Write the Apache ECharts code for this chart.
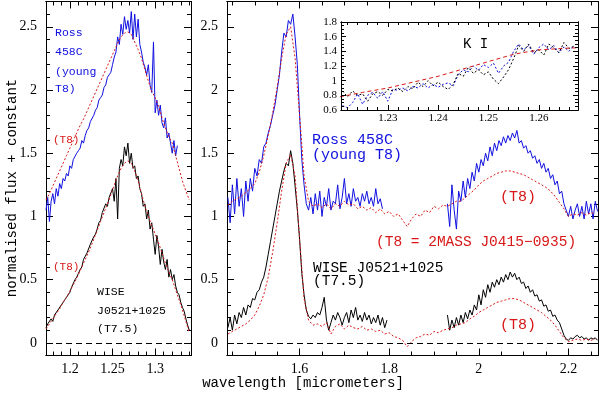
<!DOCTYPE html>
<html>
<head>
<meta charset="utf-8">
<script src="https://cdn.jsdelivr.net/npm/echarts@6/dist/echarts.min.js"></script>
<style>
html,body{margin:0;padding:0;background:#fff}
#chart{width:600px;height:396px}
</style>
</head>
<body>
<div id="chart"></div>
<script>
// ---- J band (left panel) ----
var jStart = 1.172, jStep = 0.002;
var jRoss = [1.05,1.15,0.96,1.12,1.18,1.10,1.22,1.16,1.26,1.22,
  1.30,1.28,1.34,1.32,1.40,1.38,1.45,1.44,1.50,1.52,
  1.54,1.60,1.58,1.64,1.68,1.70,1.75,1.74,1.80,1.84,
  1.86,1.92,1.94,1.96,2.02,2.04,2.10,2.12,2.14,2.20,
  2.26,2.30,2.42,2.36,2.52,2.44,2.58,2.48,2.55,2.45,
  2.62,2.40,2.60,2.42,2.56,2.36,2.30,2.22,2.18,2.12,
  2.20,2.04,1.98,2.38,1.82,1.92,1.80,1.88,1.74,1.70,
  1.78,1.62,1.66,1.58,1.50,1.60,1.48,1.56];
var jWise = [0.12,0.15,0.14,0.19,0.17,0.22,0.21,0.26,0.25,0.30,
  0.29,0.34,0.33,0.38,0.40,0.44,0.45,0.50,0.52,0.55,
  0.58,0.60,0.66,0.65,0.71,0.72,0.78,0.77,0.84,0.86,
  0.90,0.95,0.97,1.03,1.02,1.10,1.08,1.15,1.14,1.22,
  1.12,1.30,0.98,1.38,1.45,1.40,1.55,1.48,1.58,1.42,
  1.50,1.38,1.40,1.30,1.32,1.22,1.18,1.08,1.10,0.98,
  1.05,0.90,0.95,0.82,0.70,0.85,0.76,0.62,0.74,0.64,
  0.58,0.66,0.52,0.58,0.50,0.54,0.45,0.40,0.38,0.32,
  0.28,0.25,0.19,0.14,0.10];
var jModelStep = 0.004;
var jRossModel = [1.13,1.18,1.24,1.30,1.36,1.42,1.48,1.54,1.60,1.66,
  1.72,1.77,1.83,1.89,1.95,2.01,2.07,2.13,2.19,2.25,
  2.31,2.37,2.42,2.45,2.46,2.44,2.38,2.32,2.25,2.16,
  2.07,1.99,1.94,1.87,1.78,1.70,1.63,1.58,1.48,1.38,
  1.28,1.20,1.13];
var jWiseModel = [0.11,0.15,0.19,0.23,0.27,0.32,0.36,0.41,0.46,0.51,
  0.57,0.63,0.69,0.75,0.82,0.89,0.96,1.03,1.10,1.17,
  1.25,1.32,1.38,1.42,1.44,1.42,1.36,1.28,1.18,1.08,
  1.00,0.93,0.86,0.79,0.71,0.63,0.56,0.50,0.42,0.34,
  0.26,0.17,0.08];

// ---- H and K bands (right panel) ----
var hStep = 0.005, hStartA = 1.44, hStartB = 1.93;
var hRossA = [1.15,0.95,1.25,1.02,1.30,1.08,1.22,1.00,1.28,1.12,
  1.30,1.20,1.38,1.32,1.45,1.42,1.55,1.58,1.66,1.72,
  1.80,1.88,2.00,2.12,2.30,2.45,2.42,2.55,2.52,2.60,
  2.42,2.20,1.80,1.45,1.25,1.10,1.05,1.15,1.02,1.18,
  1.05,1.20,1.00,1.15,1.08,1.22,1.05,1.12,1.10,1.25,
  1.06,1.15,1.30,1.10,1.18,1.08,1.22,1.12,1.15,1.08,
  1.18,1.12,1.20,1.10,1.15,1.08,1.22,1.10,1.14,1.06];
var hRossB = [1.10,0.92,1.25,1.05,0.90,1.20,1.12,1.28,1.15,1.30,
  1.22,1.35,1.28,1.42,1.35,1.45,1.40,1.50,1.44,1.55,
  1.48,1.58,1.52,1.60,1.56,1.63,1.58,1.64,1.60,1.66,
  1.62,1.68,1.58,1.60,1.54,1.56,1.50,1.52,1.46,1.48,
  1.42,1.45,1.38,1.42,1.35,1.38,1.30,1.33,1.25,1.28,
  1.18,1.20,1.10,1.05,1.00,1.08,0.98,1.05,1.10,1.00,
  1.08,0.98,1.12,1.02,1.10,0.98,1.12,1.04];
var hWiseA = [0.12,0.20,0.10,0.22,0.15,0.24,0.20,0.28,0.22,0.30,
  0.28,0.35,0.34,0.40,0.42,0.48,0.52,0.60,0.70,0.80,
  0.90,1.00,1.10,1.20,1.28,1.36,1.42,1.40,1.52,1.42,
  1.24,1.05,0.82,0.55,0.38,0.26,0.21,0.19,0.22,0.20,
  0.24,0.22,0.28,0.36,0.18,0.10,0.16,0.22,0.18,0.24,
  0.20,0.14,0.20,0.24,0.16,0.26,0.20,0.28,0.18,0.22,
  0.17,0.24,0.18,0.22,0.15,0.20,0.16,0.22,0.14,0.20,
  0.12,0.18];
var hWiseB = [0.22,0.10,0.18,0.12,0.20,0.14,0.22,0.16,0.24,0.19,
  0.26,0.22,0.30,0.26,0.38,0.30,0.42,0.36,0.46,0.40,
  0.48,0.44,0.50,0.46,0.52,0.48,0.54,0.50,0.56,0.52,
  0.55,0.50,0.52,0.47,0.48,0.43,0.45,0.40,0.42,0.37,
  0.38,0.33,0.34,0.29,0.30,0.25,0.26,0.21,0.22,0.18,
  0.16,0.11,0.06,0.03,0.02,0.04,0.03,0.05,0.06,0.04,
  0.05,0.03,0.04,0.02,0.04,0.03,0.04,0.02];
var hModelStart = 1.44, hModelStep = 0.01;
var hRossModel = [1.09,1.12,1.14,1.16,1.19,1.22,1.26,1.35,1.48,1.64,
  1.82,2.02,2.25,2.44,2.50,2.25,1.80,1.32,1.12,1.08,
  1.10,1.07,1.10,1.06,1.10,1.08,1.12,1.09,1.10,1.06,
  1.08,1.05,1.07,1.03,1.06,1.02,1.04,1.00,1.02,0.97,
  0.92,0.98,1.02,1.00,1.05,1.03,1.08,1.06,1.09,1.08,
  1.10,1.12,1.12,1.15,1.18,1.21,1.25,1.28,1.30,1.32,
  1.34,1.35,1.36,1.36,1.35,1.34,1.33,1.31,1.29,1.27,
  1.25,1.23,1.20,1.16,1.11,1.06,1.00,1.02,1.01,1.03,
  1.01,1.03,1.02];
var hWiseModel = [0.07,0.09,0.11,0.13,0.15,0.18,0.22,0.29,0.38,0.52,
  0.72,0.95,1.20,1.42,1.49,1.32,0.82,0.35,0.18,0.14,
  0.15,0.13,0.16,0.07,0.13,0.15,0.11,0.14,0.12,0.11,
  0.13,0.10,0.11,0.09,0.10,0.07,0.08,0.05,0.04,0.02,
  -0.03,0.01,0.04,0.05,0.07,0.06,0.09,0.08,0.10,0.11,
  0.12,0.14,0.15,0.16,0.19,0.21,0.24,0.26,0.28,0.30,
  0.32,0.33,0.34,0.35,0.35,0.34,0.32,0.30,0.28,0.26,
  0.24,0.21,0.18,0.14,0.09,0.04,0.01,0.02,0.03,0.02,
  0.03,0.02,0.03];

// ---- inset: K I region ----
var inStart = 1.221, inStep = 0.001;
var inRoss = [0.66,0.63,0.70,0.82,0.68,0.80,0.84,0.76,0.85,0.72,
  0.88,0.87,0.90,0.86,0.92,0.90,0.96,0.90,0.95,0.91,
  0.95,0.97,0.93,1.08,1.15,1.12,1.20,1.14,1.22,1.18,
  1.24,1.10,1.20,1.25,1.40,1.50,1.42,1.48,1.36,1.45,
  1.50,1.42,1.48,1.38,1.46,1.40,1.48];
var inWise = [0.86,0.78,0.86,0.80,0.82,0.72,0.82,0.85,0.80,0.88,
  0.86,0.90,0.85,0.92,0.89,0.98,0.92,1.00,0.93,0.98,
  0.92,0.88,0.95,1.10,1.06,1.18,1.10,1.15,1.08,1.12,
  1.02,0.96,1.05,1.15,1.30,1.48,1.40,1.50,1.38,1.42,
  1.35,1.50,1.45,1.38,1.52,1.44,1.47];
var inModelWave = [1.2205,1.225,1.23,1.235,1.24,1.245,1.25,1.255,1.26,1.265,1.268];
var inModel = [0.78,0.84,0.90,0.98,1.06,1.16,1.26,1.36,1.42,1.44,1.45];
var kiLine = 1.2419;

// ---- ticks ----
var jMajor = [1.2, 1.25, 1.3];
var hMajor = [1.6, 1.8, 2, 2.2];
var fluxMajor = [0, 0.5, 1, 1.5, 2, 2.5];
var inXMajor = [1.23, 1.24, 1.25, 1.26];
var inYMajor = [0.6, 0.8, 1, 1.2, 1.4, 1.6, 1.8];

function steps(a, b, d) {
  var out = [];
  for (var v = a; v <= b + d / 2; v += d) out.push(+v.toFixed(4));
  return out;
}
function pairs(w0, dw, flux) {
  return flux.map(function (v, i) { return [+(w0 + dw * i).toFixed(4), v]; });
}

var SERIF = '"Liberation Serif","DejaVu Serif",serif';
var MONO = '"Liberation Mono","DejaVu Sans Mono",monospace';
var BLUE = '#1010e0', RED = '#d81818';

var xAxes = [], yAxes = [];
function frame(grid, xr, yr, xt, yt, o) {
  function ax(min, max, pos, ticks, len, label, margin) {
    return {
      gridIndex: grid, type: 'value', position: pos, min: min, max: max, z: o.z,
      silent: true,
      axisLine: {show: true, onZero: false, lineStyle: {color: '#000', width: 1}},
      splitLine: {show: false},
      axisTick: {show: true, inside: true, length: len, customValues: ticks,
        lineStyle: {color: '#000', width: 1}},
      axisLabel: label ? {show: true, customValues: ticks, color: '#000',
        fontFamily: SERIF, fontSize: o.fs, margin: margin} : {show: false}
    };
  }
  var xi = xAxes.length, yi = yAxes.length;
  xAxes.push(ax(xr[0], xr[1], 'bottom', xt[0], o.major, true, o.xm));
  xAxes.push(ax(xr[0], xr[1], 'bottom', xt[1], o.minor, false));
  xAxes.push(ax(xr[0], xr[1], 'top', xt[0], o.major, false));
  xAxes.push(ax(xr[0], xr[1], 'top', xt[1], o.minor, false));
  yAxes.push(ax(yr[0], yr[1], 'left', yt[0], o.major, true, o.ym));
  yAxes.push(ax(yr[0], yr[1], 'left', yt[1], o.minor, false));
  yAxes.push(ax(yr[0], yr[1], 'right', yt[0], o.major, false));
  yAxes.push(ax(yr[0], yr[1], 'right', yt[1], o.minor, false));
  return {x: xi, y: yi};
}

var fluxMinor = steps(-0.1, 2.7, 0.1);
var L = frame(0, [1.172, 1.342], [-0.1, 2.7], [jMajor, steps(1.18, 1.34, 0.01)],
  [fluxMajor, fluxMinor], {major: 7, minor: 4, fs: 14, xm: 7, ym: 9, z: 0});
var R = frame(1, [1.438, 2.266], [-0.1, 2.7], [hMajor, steps(1.45, 2.25, 0.05)],
  [fluxMajor, fluxMinor], {major: 7, minor: 4, fs: 14, xm: 7, ym: 9, z: 0});
var I = frame(2, [1.2207, 1.2678], [0.6, 1.8], [inXMajor, steps(1.222, 1.266, 0.002)],
  [inYMajor, steps(0.6, 1.8, 0.05)], {major: 5, minor: 3, fs: 11, xm: 3, ym: 4, z: 12});

function line(ax, data, color, type, z) {
  return {
    type: 'line', xAxisIndex: ax.x, yAxisIndex: ax.y, data: data,
    showSymbol: false, symbol: 'none', silent: true, z: z || 2, clip: true,
    lineStyle: {color: color, width: 1, type: type || 'solid'}
  };
}
var zeroLine = {
  symbol: 'none', silent: true, label: {show: false},
  lineStyle: {color: '#000', width: 1, type: [6, 4]},
  data: [{yAxis: 0}]
};

var series = [
  line(L, pairs(jStart, jStep, jRoss), BLUE),
  line(L, pairs(jStart, jStep, jWise), '#000'),
  line(L, pairs(jStart, jModelStep, jRossModel), RED, [2, 2], 3),
  line(L, pairs(jStart, jModelStep, jWiseModel), RED, [2, 2], 3),
  line(R, pairs(hStartA, hStep, hRossA), BLUE),
  line(R, pairs(hStartB, hStep, hRossB), BLUE),
  line(R, pairs(hStartA, hStep, hWiseA), '#000'),
  line(R, pairs(hStartB, hStep, hWiseB), '#000'),
  line(R, pairs(hModelStart, hModelStep, hRossModel), RED, [2, 2], 3),
  line(R, pairs(hModelStart, hModelStep, hWiseModel), RED, [2, 2], 3),
  line(I, pairs(inStart, inStep, inRoss), BLUE, [2, 2], 11),
  line(I, pairs(inStart, inStep, inWise), '#000', [2, 2], 11),
  line(I, inModelWave.map(function (w, i) { return [w, inModel[i]]; }), RED, [4, 3], 11)
];
series[1].markLine = zeroLine;
series[7].markLine = zeroLine;
series[11].markLine = {
  symbol: 'none', silent: true, label: {show: false},
  lineStyle: {color: '#000', width: 1, type: [7, 4]},
  data: [{xAxis: kiLine}]
};

function txt(x, y, s, color, size, extra) {
  var el = {
    type: 'text', x: x, y: y, silent: true, z: 20,
    style: {text: s, fill: color, font: size + 'px ' + MONO, verticalAlign: 'middle', align: 'left'}
  };
  if (extra) for (var k in extra) el.style[k] = extra[k];
  return el;
}

var graphics = [
  txt(55, 33, 'Ross', BLUE, 11.5),
  txt(55, 52, '458C', BLUE, 11.5),
  txt(55, 72, '(young', BLUE, 11.5),
  txt(55, 89, 'T8)', BLUE, 11.5),
  txt(53, 140, '(T8)', RED, 11),
  txt(53, 267, '(T8)', RED, 11),
  txt(97, 292, 'WISE', '#000', 11.5),
  txt(97, 311, 'J0521+1025', '#000', 11.5),
  txt(97, 329, '(T7.5)', '#000', 11.5),
  txt(312, 140, 'Ross 458C', BLUE, 15),
  txt(312, 155, '(young T8)', BLUE, 15),
  txt(500, 197, '(T8)', RED, 15),
  txt(376, 242, '(T8 = 2MASS J0415\u22120935)', RED, 14.5),
  txt(313, 268, 'WISE J0521+1025', '#000', 14.5),
  txt(313, 281, '(T7.5)', '#000', 14.5),
  txt(500, 325, '(T8)', RED, 15),
  txt(463, 44, 'K I', '#000', 14),
  txt(303, 383, 'wavelength [micrometers]', '#000', 14, {align: 'center'}),
  {
    type: 'text', x: 12, y: 188, rotation: Math.PI / 2, silent: true, z: 20,
    style: {text: 'normalised flux + constant', fill: '#000', font: '14px ' + MONO,
      align: 'center', verticalAlign: 'middle'}
  }
];

var chart = echarts.init(document.getElementById('chart'), null, {renderer: 'canvas'});
chart.setOption({
  animation: false,
  backgroundColor: '#fff',
  grid: [
    {left: 46, top: 1.5, width: 145, height: 354, show: false},
    {left: 227, top: 1.5, width: 371, height: 354, show: false},
    {left: 341, top: 22, width: 237, height: 88, show: true, backgroundColor: '#fff',
      borderWidth: 0, z: 10}
  ],
  xAxis: xAxes,
  yAxis: yAxes,
  series: series,
  graphic: graphics
});
</script>
</body>
</html>
